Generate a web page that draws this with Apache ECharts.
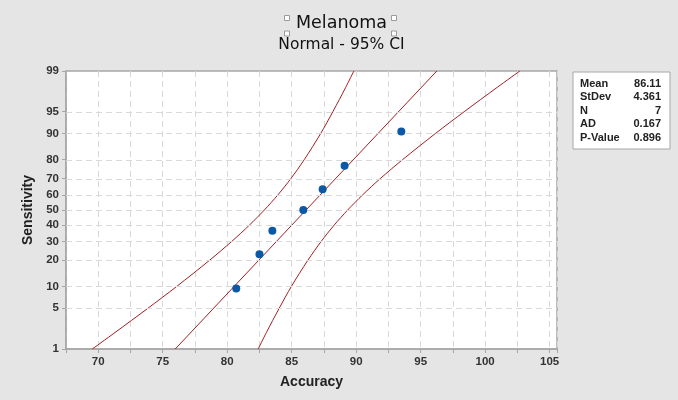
<!DOCTYPE html>
<html><head><meta charset="utf-8">
<script src="https://cdn.jsdelivr.net/npm/echarts@6/dist/echarts.min.js"></script>
<style>html,body{margin:0;padding:0;background:#e5e5e5}#c{width:678px;height:400px}</style>
</head><body><div id="c"></div>
<script>
// ---- data ----
const accuracy = [80.7, 82.5, 83.5, 85.9, 87.4, 89.1, 93.5];
const sensitivity = [9.46, 22.97, 36.49, 50, 63.51, 77.03, 90.54];
const bandPercents = [1, 2, 5, 10, 20, 30, 40, 50, 60, 70, 80, 90, 95, 98, 99];
const lowerBand = [69.54, 71.28, 73.85, 76.07, 78.63, 80.36, 81.72, 82.88, 83.93, 84.93, 85.97, 87.25, 88.19, 89.19, 89.82];
const upperBand = [82.40, 83.03, 84.03, 84.97, 86.25, 87.29, 88.29, 89.34, 90.50, 91.86, 93.59, 96.15, 98.37, 100.94, 102.69];
const fitAccuracy = [75.97, 96.25];
const fitPercents = [1, 99];
const yTickLabels = [1, 5, 10, 20, 30, 40, 50, 60, 70, 80, 90, 95, 99];
const statLabels = ['Mean', 'StDev', 'N', 'AD', 'P-Value'];
const statValues = ['86.11', '4.361', '7', '0.167', '0.896'];

// ---- normal probability scale (inverse normal CDF) ----
function probit(p){
  const a=[-3.969683028665376e+01,2.209460984245205e+02,-2.759285104469687e+02,1.383577518672690e+02,-3.066479806614716e+01,2.506628277459239e+00];
  const b=[-5.447609879822406e+01,1.615858368580409e+02,-1.556989798598866e+02,6.680131188771972e+01,-1.328068155288572e+01];
  const c=[-7.784894002430293e-03,-3.223964580411365e-01,-2.400758277161838e+00,-2.549732539343734e+00,4.374664141464968e+00,2.938163982698783e+00];
  const d=[7.784695709041462e-03,3.224671290700398e-01,2.445134137142996e+00,3.754408661907416e+00];
  const pl=0.02425, ph=1-pl; let q,r;
  if(p<pl){q=Math.sqrt(-2*Math.log(p));return (((((c[0]*q+c[1])*q+c[2])*q+c[3])*q+c[4])*q+c[5])/((((d[0]*q+d[1])*q+d[2])*q+d[3])*q+1);}
  if(p<=ph){q=p-0.5;r=q*q;return (((((a[0]*r+a[1])*r+a[2])*r+a[3])*r+a[4])*r+a[5])*q/(((((b[0]*r+b[1])*r+b[2])*r+b[3])*r+b[4])*r+1);}
  q=Math.sqrt(-2*Math.log(1-p));return -(((((c[0]*q+c[1])*q+c[2])*q+c[3])*q+c[4])*q+c[5])/((((d[0]*q+d[1])*q+d[2])*q+d[3])*q+1);
}
const Y = pct => probit(pct / 100);
const yTickVals = yTickLabels.map(Y);
const yLabelOf = v => { for (let i = 0; i < yTickVals.length; i++) if (Math.abs(yTickVals[i] - v) < 1e-6) return String(yTickLabels[i]); return ''; };

const FONT = '"Liberation Sans", Arial, sans-serif';
const RED = '#a31f22';
const GRID = '#d9d9d9';

const chart = echarts.init(document.getElementById('c'), null, {renderer: 'canvas'});

const statGraphics = [{
  type: 'rect', shape: {x: 573, y: 72, width: 97, height: 77},
  style: {fill: '#fff', stroke: '#a6a6a6', lineWidth: 1}
}];
statLabels.forEach((l, i) => {
  statGraphics.push({type: 'text', x: 580, y: 83.5 + i * 13.5,
    style: {text: l, font: 'bold 11px ' + FONT, fill: '#222', textAlign: 'left', textVerticalAlign: 'middle'}});
  statGraphics.push({type: 'text', x: 661, y: 83.5 + i * 13.5,
    style: {text: statValues[i], font: 'bold 11px ' + FONT, fill: '#222', textAlign: 'right', textVerticalAlign: 'middle'}});
});
const handle = (x, y) => ({type: 'rect', shape: {x: x, y: y, width: 5, height: 5}, style: {fill: '#fff', stroke: '#9a9a9a', lineWidth: 1}});

chart.setOption({
  backgroundColor: '#e5e5e5',
  animation: false,
  grid: {left: 66, right: 121, top: 71, bottom: 51, show: true, backgroundColor: '#fff', borderColor: '#a6a6a6', borderWidth: 1.5},
  xAxis: {
    type: 'value', min: 67.5, max: 105.57, interval: 2.5,
    name: 'Accuracy', nameLocation: 'middle', nameGap: 26,
    nameTextStyle: {fontFamily: FONT, fontSize: 14, fontWeight: 'bold', color: '#222'},
    axisLine: {show: true, onZero: false, lineStyle: {color: '#a6a6a6', width: 1.5}},
    axisTick: {show: true, length: 4, lineStyle: {color: '#a6a6a6'}},
    axisLabel: {fontFamily: FONT, fontSize: 11.5, fontWeight: 'bold', color: '#333', margin: 7,
      showMinLabel: true, showMaxLabel: true,
      formatter: v => Math.abs(v / 5 - Math.round(v / 5)) < 1e-9 ? String(Math.round(v)) : ''},
    splitLine: {show: true, lineStyle: {color: GRID, type: [6, 4], width: 1}}
  },
  yAxis: {
    type: 'value', min: Y(1), max: Y(99),
    name: 'Sensitivity', nameLocation: 'middle', nameGap: 31,
    nameTextStyle: {fontFamily: FONT, fontSize: 14, fontWeight: 'bold', color: '#222'},
    axisLine: {show: true, onZero: false, lineStyle: {color: '#a6a6a6', width: 1.5}},
    axisTick: {show: true, length: 4, customValues: yTickVals, lineStyle: {color: '#a6a6a6'}},
    axisLabel: {fontFamily: FONT, fontSize: 11.5, fontWeight: 'bold', color: '#333', margin: 7,
      customValues: yTickVals, formatter: v => yLabelOf(v)},
    splitLine: {show: false}
  },
  graphic: [
    {type: 'text', x: 341.5, y: 23, style: {text: 'Melanoma', font: '17.5px "DejaVu Sans", sans-serif', fill: '#111', textAlign: 'center', textVerticalAlign: 'middle'}},
    {type: 'text', x: 341.5, y: 44.5, style: {text: 'Normal - 95% CI', font: '15.5px "DejaVu Sans", sans-serif', fill: '#111', textAlign: 'center', textVerticalAlign: 'middle'}},
    handle(284.5, 15.5), handle(391.5, 15.5), handle(284.5, 31), handle(391.5, 31)
  ].concat(statGraphics),
  series: [
    {
      type: 'line', data: [], silent: true, z: 1,
      markLine: {silent: true, symbol: 'none', label: {show: false},
        lineStyle: {color: GRID, type: [6, 4], width: 1},
        data: yTickVals.slice(1, -1).map(v => ({yAxis: v}))}
    },
    {type: 'line', data: bandPercents.map((p, i) => [lowerBand[i], Y(p)]), smooth: 0.3, showSymbol: false, symbol: 'none', silent: true, z: 3,
      lineStyle: {color: RED, width: 1}},
    {type: 'line', data: bandPercents.map((p, i) => [upperBand[i], Y(p)]), smooth: 0.3, showSymbol: false, symbol: 'none', silent: true, z: 3,
      lineStyle: {color: RED, width: 1}},
    {type: 'line', data: fitPercents.map((p, i) => [fitAccuracy[i], Y(p)]), showSymbol: false, symbol: 'none', silent: true, z: 3,
      lineStyle: {color: RED, width: 1}},
    {type: 'scatter', data: accuracy.map((x, i) => [x, Y(sensitivity[i])]), symbol: 'circle', symbolSize: 8, z: 5,
      itemStyle: {color: '#0b58a6', opacity: 1}}
  ]
});
</script></body></html>
